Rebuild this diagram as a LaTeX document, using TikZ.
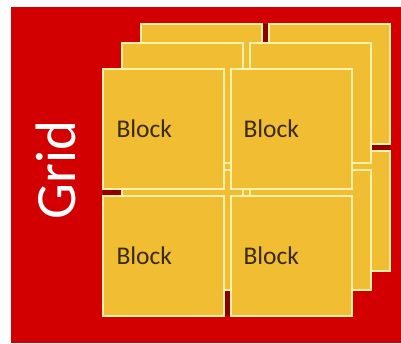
\documentclass[tikz,border=0pt]{standalone}
\usepackage{fontspec}
\setmainfont{Carlito}
\definecolor{bgred}{HTML}{D20000}
\definecolor{darkred}{HTML}{8E0000}
\definecolor{blockfill}{HTML}{F1BE33}
\definecolor{blockedge}{HTML}{FFF2A8}
\definecolor{blocktext}{HTML}{3A2A12}
\tikzset{
  blk/.style={rectangle, anchor=north west, fill=blockfill, draw=blockedge, line width=1.6pt,
    minimum width=121pt, minimum height=120pt, inner sep=0pt, outer sep=0pt},
  lbl/.style={blk, text width=94pt, inner xsep=13.5pt, align=left, font=\fontsize{25.5}{25.5}\selectfont, text=blocktext},
  shade/.style={fill=darkred},
}
\begin{document}
\begin{tikzpicture}[x=1pt,y=-1pt]
\useasboundingbox (0,0) rectangle (401,343);
\fill[white] (0,0) rectangle (401,343);
\fill[bgred] (11,7) rectangle (401,343);
% dark shadow behind all layers (visible through gaps)
\fill[shade] (141,24) rectangle (390,271);
\fill[shade] (122,43) rectangle (371,290);
\fill[shade] (103,69) rectangle (352,316);
% back layer
\node[blk] (b11) at (141,24) {};
\node[blk] (b12) at (269,24) {};
\node[blk] (b21) at (141,151) {};
\node[blk] (b22) at (269,151) {};
% middle layer
\node[blk] (m11) at (122,43) {};
\node[blk] (m12) at (250,43) {};
\node[blk] (m21) at (122,170) {};
\node[blk] (m22) at (250,170) {};
% front layer
\node[lbl] (f11) at (103,69) {Block};
\node[lbl, text width=96pt, inner xsep=12.5pt] (f12) at (231,69) {Block};
\node[lbl] (f21) at (103,196) {Block};
\node[lbl, text width=96pt, inner xsep=12.5pt] (f22) at (231,196) {Block};
% grid label
\node[rotate=90, anchor=base, text=white, font=\fontsize{57}{57}\selectfont, inner sep=0pt] (grid) at (75,170) {Grid};
\end{tikzpicture}
\end{document}
